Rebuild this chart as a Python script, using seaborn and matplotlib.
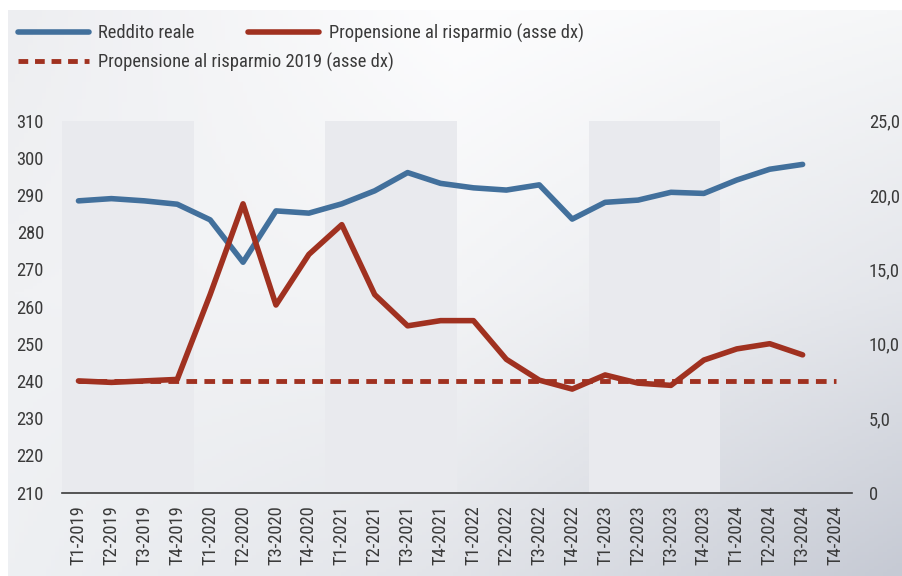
import matplotlib
matplotlib.use("Agg")
import numpy as np
import pandas as pd
import matplotlib.pyplot as plt
import seaborn as sns
from matplotlib import font_manager
from matplotlib.lines import Line2D
from matplotlib.ticker import FuncFormatter

# ================================
# Dati
# ================================
trimestri = [
    "T1-2019", "T2-2019", "T3-2019", "T4-2019",
    "T1-2020", "T2-2020", "T3-2020", "T4-2020",
    "T1-2021", "T2-2021", "T3-2021", "T4-2021",
    "T1-2022", "T2-2022", "T3-2022", "T4-2022",
    "T1-2023", "T2-2023", "T3-2023", "T4-2023",
    "T1-2024", "T2-2024", "T3-2024", "T4-2024",
]
reddito_reale = [
    288.4, 289.0, 288.4, 287.5,
    283.3, 271.9, 285.7, 285.1,
    287.6, 291.1, 296.0, 293.1,
    291.9, 291.3, 292.7, 283.5,
    288.0, 288.6, 290.7, 290.4,
    294.0, 296.9, 298.2, np.nan,
]
propensione = [
    7.5, 7.4, 7.5, 7.6,
    13.3, 19.4, 12.6, 16.0,
    18.0, 13.3, 11.2, 11.55,
    11.55, 8.95, 7.55, 6.95,
    7.9, 7.35, 7.2, 8.9,
    9.65, 10.0, 9.25, np.nan,
]
propensione_2019 = 7.5
anni_ombreggiati = ["2019", "2021", "2023"]

blu = "#42709c"
rosso = "#a03120"
testo = "#3a3a3a"

df = pd.DataFrame({
    "pos": np.arange(len(trimestri)),
    "trimestre": trimestri,
    "reddito": reddito_reale,
    "propensione": propensione,
    "prop2019": [propensione_2019] * len(trimestri),
})

# ================================
# Stile / font
# ================================
sns.set_theme(style="white")
disponibili = {f.name for f in font_manager.fontManager.ttflist}
font = "Roboto"
for cand in ["Roboto Condensed", "Liberation Sans Narrow", "Roboto"]:
    if cand in disponibili:
        font = cand
        break
plt.rcParams["font.family"] = [font, "DejaVu Sans"]
fs = 13.3 if font != "Roboto" else 12

fig = plt.figure(figsize=(9.03, 5.76), dpi=100)
fig.patch.set_facecolor("white")

# sfondo sfumato (ancore 3x3 interpolate in modo lineare)
ancore = np.array([
    [[237, 238, 241], [253, 253, 254], [246, 247, 248]],
    [[241, 242, 244], [243, 244, 246], [228, 230, 235]],
    [[238, 240, 243], [226, 228, 233], [198, 202, 212]],
], dtype=float)
n = 200
t = np.linspace(0, 1, n)
righe = np.stack([
    np.stack([np.interp(t, [0, 0.5, 1], ancore[r, :, c]) for c in range(3)], axis=-1)
    for r in range(3)
])
grad = np.stack([
    np.stack([np.interp(t, [0, 0.5, 1], righe[:, j, c]) for c in range(3)], axis=-1)
    for j in range(n)
], axis=1)
bg = fig.add_axes([0, 0, 1, 1], zorder=-10)
bg.imshow(grad.astype(np.uint8), extent=(8 / 903, 1, 0, 1 - 10 / 576),
          aspect="auto", interpolation="bilinear")
bg.set_xlim(0, 1)
bg.set_ylim(0, 1)
bg.axis("off")

ax = fig.add_axes([62 / 903, 1 - 492.5 / 576, 790 / 903, 372 / 576])
ax.set_facecolor("none")

# bande annuali
for i, tr in enumerate(trimestri):
    if tr.startswith("T1") and tr[-4:] in anni_ombreggiati:
        ax.axvspan(i - 0.5, i + 3.5, color="#e9eaee", lw=0, zorder=0)

sns.lineplot(data=df, x="pos", y="reddito", ax=ax, color=blu, lw=4,
             solid_capstyle="round", zorder=3)
ax.set_ylim(210, 310)
ax.set_xlim(-0.5, len(trimestri) - 0.5)

ax2 = ax.twinx()
ax2.set_facecolor("none")
sns.lineplot(data=df, x="pos", y="prop2019", ax=ax2, color=rosso, lw=3.5,
             zorder=3)
ax2.lines[-1].set_dashes((2.2, 1.5))
ax2.lines[-1].set_dash_capstyle("butt")
sns.lineplot(data=df, x="pos", y="propensione", ax=ax2, color=rosso, lw=4,
             solid_capstyle="round", zorder=4)
ax2.set_ylim(0, 25)
ax2.set_xlim(-0.5, len(trimestri) - 0.5)

# assi
for a in (ax, ax2):
    a.set_xlabel("")
    a.set_ylabel("")
    for s in ("top", "left", "right"):
        a.spines[s].set_visible(False)
ax2.spines["bottom"].set_visible(False)
ax.spines["bottom"].set_color(testo)
ax.spines["bottom"].set_linewidth(1.2)

ax.set_xticks(df["pos"])
ax.set_xticklabels(trimestri, rotation=90, fontsize=fs, color=testo)
ax.set_xticks(np.arange(-0.5, len(trimestri), 4), minor=True)
ax.tick_params(axis="x", which="major", length=0, pad=9)
ax.tick_params(axis="x", which="minor", length=10, width=1.2,
               direction="inout", color=testo)

ax.set_yticks(np.arange(210, 311, 10))
ax.tick_params(axis="y", length=0, pad=13, labelsize=fs, labelcolor=testo)
ax2.set_yticks(np.arange(0, 26, 5))
ax2.yaxis.set_major_formatter(
    FuncFormatter(lambda v, p: "0" if v == 0 else f"{v:.1f}".replace(".", ",")))
ax2.tick_params(axis="y", length=0, pad=12, labelsize=fs, labelcolor=testo)

# legenda
h_blu = Line2D([], [], color=blu, lw=4, solid_capstyle="round")
h_rosso = Line2D([], [], color=rosso, lw=4, solid_capstyle="round")
h_dash = Line2D([], [], color=rosso, lw=3.5, dashes=(2.0, 1.4))
leg_kw = dict(loc="center left", frameon=False, borderpad=0, borderaxespad=0,
              handlelength=3.85, handletextpad=0.5, columnspacing=2.9,
              fontsize=fs, labelcolor=testo)
fig.legend([h_blu, h_rosso],
           ["Reddito reale", "Propensione al risparmio (asse dx)"],
           ncol=2, bbox_to_anchor=(18 / 903, 1 - 33 / 576), **leg_kw)
fig.legend([h_dash], ["Propensione al risparmio 2019 (asse dx)"],
           bbox_to_anchor=(18 / 903, 1 - 62 / 576), **leg_kw)

fig.savefig("out.png", dpi=100)
